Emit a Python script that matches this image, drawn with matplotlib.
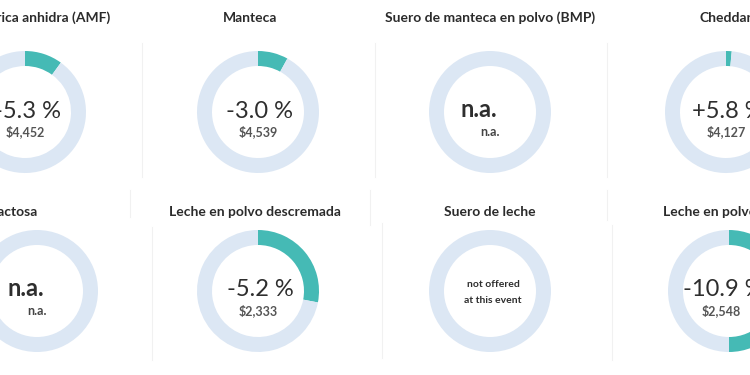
import matplotlib
matplotlib.use("Agg")
import matplotlib.pyplot as plt

plt.rcParams['font.family'] = ['Lato', 'DejaVu Sans']

# panel data, row by row (left to right)
titles = ["Grasa butírica anhidra (AMF)", "Manteca", "Suero de manteca en polvo (BMP)", "Cheddar",
          "Lactosa", "Leche en polvo descremada", "Suero de leche", "Leche en polvo entera"]
changes = ["-5.3 %", "-3.0 %", "n.a.", "+5.8 %", "n.a.", "-5.2 %", "", "-10.9 %"]
prices = ["$4,452", "$4,539", "n.a.", "$4,127", "n.a.", "$2,333", "", "$2,548"]
offered = [True, True, True, True, True, True, False, True]
arc_share = [0.10, 0.08, 0.0, 0.015, 0.0, 0.28, 0.0, 0.50]

# layout (pixel coords, y from top)
W, H = 750, 375
centers = [(25, 112), (258, 112), (490, 112), (726, 112),
           (37, 291), (258, 291), (490, 291), (729, 291)]
title_pos = [(22, 18), (250, 18), (490, 18), (726, 18),
             (14, 212), (255, 212), (490, 212), (732, 212)]
text_dx = [2, 2, 0, 2, 0, 2, 0, -6]
dividers = [(142, 43, 177), (375, 43, 177), (607, 43, 177),
            (130, 190, 217), (370, 190, 225), (607, 190, 220),
            (152, 227, 360), (382, 223, 358), (612, 225, 360)]

teal = "#45bab5"
ring = "#dce7f4"
dark = "#2e2e2e"

fig = plt.figure(figsize=(7.5, 3.75), dpi=100)
ax = fig.add_axes([0, 0, 1, 1])


def Y(py):
    return H - py


for x, y0, y1 in dividers:
    ax.plot([x, x], [Y(y0), Y(y1)], color="#f1f1f1", lw=0.8, zorder=0)

for i in range(len(titles)):
    cx, cy = centers[i]
    ax.pie([arc_share[i], 1 - arc_share[i]], colors=[teal, ring], startangle=90,
           counterclock=False, radius=61, center=(cx, Y(cy)),
           wedgeprops=dict(width=15, linewidth=0))
    tx, ty = title_pos[i]
    ax.text(tx, Y(ty), titles[i], ha="center", va="center",
            fontsize=10, fontweight="bold", color="#2b2b2b")
    if not offered[i]:
        ax.text(cx + 3, Y(cy - 4), "not offered", ha="center", va="baseline",
                fontsize=7.5, fontweight="bold", color=dark)
        ax.text(cx + 3, Y(cy + 12), "at this event", ha="center", va="baseline",
                fontsize=7.5, fontweight="bold", color=dark)
    elif changes[i] == "n.a.":
        ax.text(cx - 11, Y(cy + 5), "n.a.", ha="center", va="baseline",
                fontsize=17, fontweight="bold", color=dark)
        ax.text(cx, Y(cy + 24), "n.a.", ha="center", va="baseline",
                fontsize=9, fontweight="bold", color="#444444")
    else:
        ax.text(cx + text_dx[i], Y(cy + 5.5), changes[i], ha="center", va="baseline",
                fontsize=17, color=dark)
        ax.text(cx + text_dx[i] - 2, Y(cy + 24), prices[i], ha="center", va="baseline",
                fontsize=9, fontweight="bold", color="#555555")

ax.set_xlim(0, W)
ax.set_ylim(0, H)
ax.set_aspect("auto")
ax.axis("off")

fig.savefig("out.png", dpi=100, facecolor="white")
